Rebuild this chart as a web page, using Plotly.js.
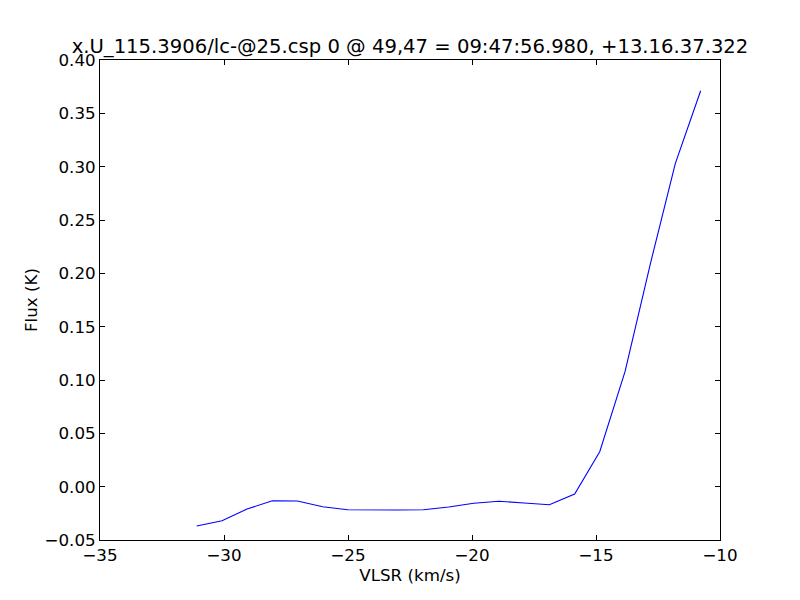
<!DOCTYPE html>
<html>
<head>
<meta charset="utf-8">
<script src="https://cdn.plot.ly/plotly-3.0.1.min.js"></script>
<style>html,body{margin:0;padding:0;background:#fff;}#chart{width:800px;height:600px;}</style>
</head>
<body>
<div id="chart"></div>
<script>
const velocity = [-31.10, -30.08, -29.07, -28.05, -27.04, -26.02, -25.01, -23.99, -22.98, -21.96,
  -20.94, -19.93, -18.91, -17.90, -16.88, -15.86, -14.85, -13.83, -12.82, -11.80, -10.78];
const flux = [-0.0369, -0.0319, -0.0209, -0.0132, -0.0134, -0.0188, -0.0216, -0.0219, -0.0219, -0.0216,
  -0.0191, -0.0156, -0.0137, -0.0153, -0.0169, -0.0069, 0.0328, 0.1078, 0.2078, 0.3031, 0.3712];
const titleText = "x.U_115.3906/lc-@25.csp 0 @ 49,47 = 09:47:56.980, +13.16.37.322";
const xTitle = "VLSR (km/s)";
const yTitle = "Flux (K)";

const font = {family: "DejaVu Sans", size: 16.7, color: "#000"};
const trace = {
  x: velocity, y: flux, type: "scatter", mode: "lines",
  line: {color: "#0000ff", width: 1.1}, hoverinfo: "skip"
};
const axisCommon = {
  showline: true, linecolor: "#000", linewidth: 1, mirror: "ticks",
  ticks: "inside", ticklen: 5, tickwidth: 1, tickcolor: "#000",
  showgrid: false, zeroline: false, tickfont: font
};
const layout = {
  width: 800, height: 600,
  margin: {l: 100, r: 80, t: 60, b: 60, pad: 0},
  paper_bgcolor: "#fff", plot_bgcolor: "#fff",
  font: font,
  showlegend: false,
  title: {text: titleText, font: {family: "DejaVu Sans", size: 19.6, color: "#000"},
    x: 0.5125, xanchor: "center", y: 1 - 46/600, yanchor: "middle", yref: "container"},
  xaxis: Object.assign({}, axisCommon, {
    range: [-35, -10], dtick: 5, tick0: -35,
    title: {text: xTitle, font: font, standoff: 3}
  }),
  yaxis: Object.assign({}, axisCommon, {
    range: [-0.05, 0.40], dtick: 0.05, tick0: 0, tickformat: ".2f",
    title: {text: yTitle, font: font, standoff: 2}
  })
};
Plotly.newPlot("chart", [trace], layout, {staticPlot: true, displayModeBar: false});
</script>
</body>
</html>
